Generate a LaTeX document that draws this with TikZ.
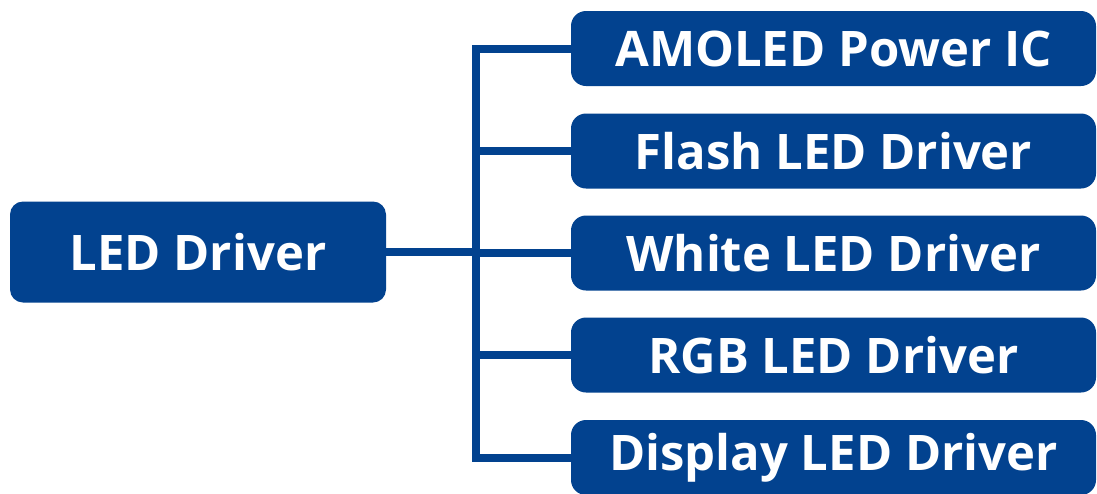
\documentclass[tikz,border=0pt]{standalone}
\usepackage{fontspec}
\setsansfont{Open Sans}
\usepackage{tikz}
\definecolor{azul}{HTML}{02428F}

\begin{document}
\begin{tikzpicture}[x=1pt,y=1pt,
  every node/.style={font=\sffamily\bfseries\fontsize{49}{57}\selectfont, text=white},
  raiz/.style={rectangle, rounded corners=13pt, fill=azul, minimum width=376pt, minimum height=101pt, inner sep=0pt},
  rama/.style={rectangle, rounded corners=15pt, fill=azul, minimum width=525pt, minimum height=75pt, inner sep=0pt},
  linea/.style={draw=azul, line width=8pt}]
\useasboundingbox (0,0) rectangle (1097,-493);
\node[raiz] (drv) at (198,-252) {LED Driver};
\node[rama] (b1) at (833.5,-48.5) {AMOLED Power IC};
\node[rama] (b2) at (833.5,-151) {Flash LED Driver};
\node[rama] (b3) at (833.5,-253) {White LED Driver};
\node[rama] (b4) at (833.5,-355) {RGB LED Driver};
\node[rama] (b5) at (833.5,-457.5) {Display LED Driver};
\coordinate (fork) at (476,-252);
\draw[linea] (drv.east) -- (fork);
\foreach \i in {1,...,5}
  \draw[linea] (fork) |- (b\i.west);
\end{tikzpicture}
\end{document}
